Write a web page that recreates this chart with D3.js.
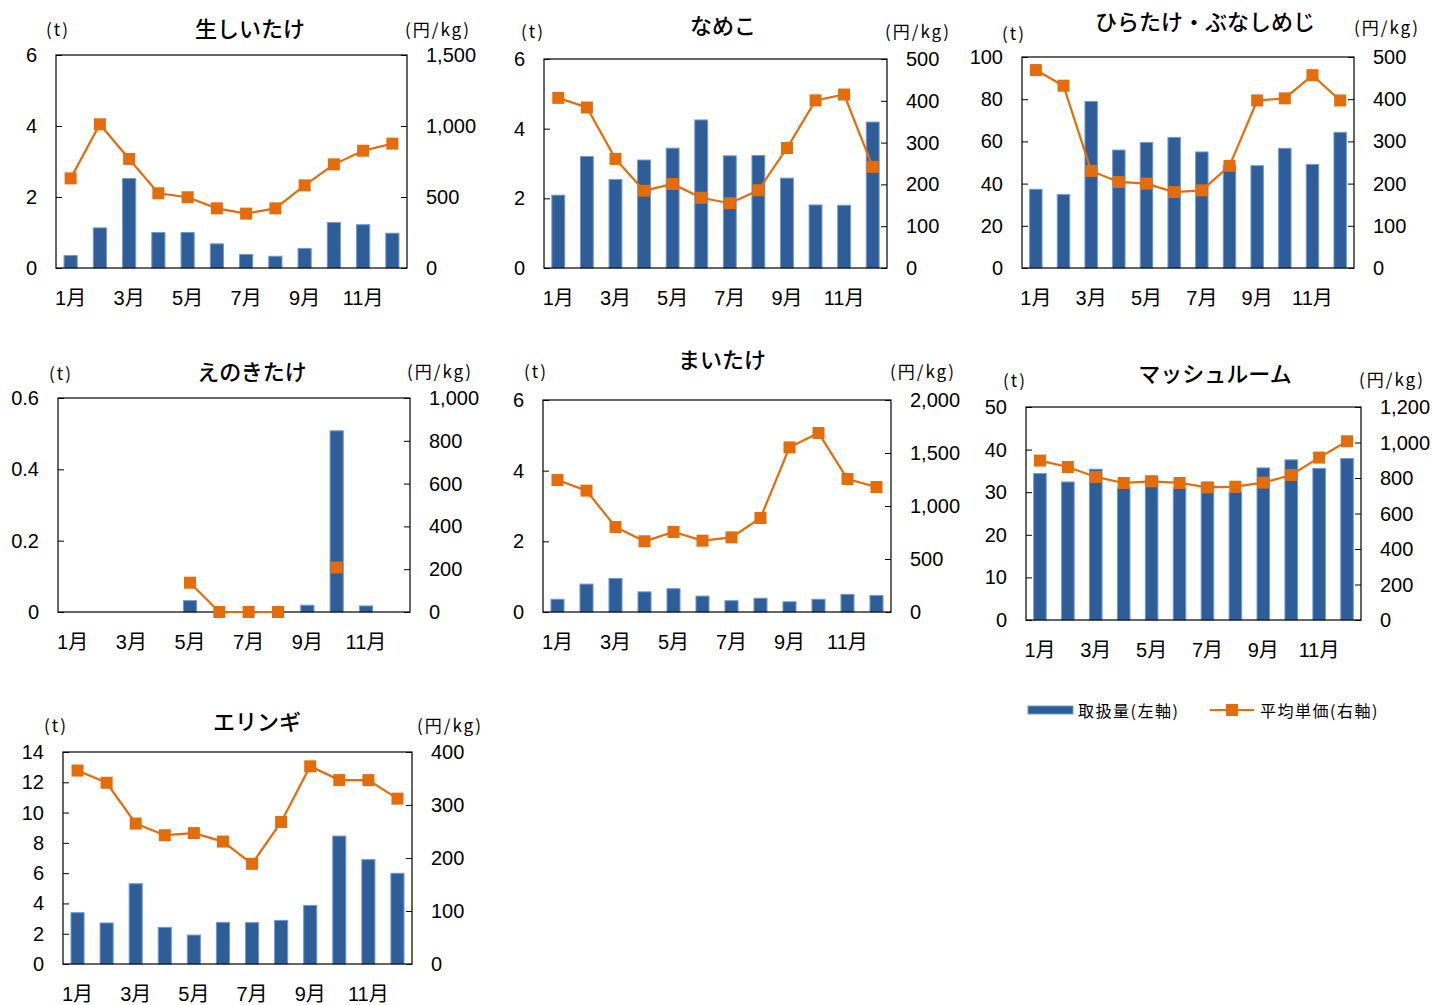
<!DOCTYPE html>
<html><head><meta charset="utf-8">
<script src="https://cdn.jsdelivr.net/npm/d3@7"></script>
<style>
html,body{margin:0;padding:0;background:#fff;}
svg{display:block;}
text{fill:#000;}
</style></head>
<body>
<svg id="c" width="1432" height="1005"></svg>
<script>
// ---------- DATA ----------
const months = ["1月","2月","3月","4月","5月","6月","7月","8月","9月","10月","11月","12月"];
const monthLabels = ["1月","3月","5月","7月","9月","11月"];

const shiitakeVolume = [0.35,1.13,2.52,1.0,1.0,0.68,0.38,0.33,0.55,1.28,1.22,0.98];
const shiitakePrice  = [631,1012,768,526,498,420,383,420,582,730,826,876];
const shiitakeLeftTicks = [0,2,4,6];
const shiitakeRightTicks = [0,500,1000,1500];

const namekoVolume = [2.09,3.2,2.54,3.1,3.44,4.25,3.22,3.23,2.58,1.81,1.8,4.19];
const namekoPrice  = [407,384,261,185,201,168,155,186,287,401,415,242];
const namekoLeftTicks = [0,2,4,6];
const namekoRightTicks = [0,100,200,300,400,500];

const hiratakeVolume = [37.3,34.8,78.9,55.9,59.5,61.9,55.0,48.5,48.5,56.7,49.1,64.3];
const hiratakePrice  = [469,432,230,204,200,180,184,242,397,402,457,397];
const hiratakeLeftTicks = [0,20,40,60,80,100];
const hiratakeRightTicks = [0,100,200,300,400,500];

const enokiVolume = [null,null,null,null,0.032,null,null,null,0.019,0.508,0.017,null];
const enokiPrice  = [null,null,null,null,137,0,0,0,null,208,null,null];
const enokiLeftTicks = [0,0.2,0.4,0.6];
const enokiRightTicks = [0,200,400,600,800,1000];

const maitakeVolume = [0.36,0.79,0.95,0.57,0.66,0.45,0.32,0.39,0.29,0.36,0.5,0.47];
const maitakePrice  = [1245,1145,802,667,755,673,704,887,1553,1689,1255,1179];
const maitakeLeftTicks = [0,2,4,6];
const maitakeRightTicks = [0,500,1000,1500,2000];

const mushroomVolume = [34.4,32.4,35.4,31.0,33.8,31.0,32.3,30.0,35.7,37.6,35.6,37.9];
const mushroomPrice  = [898,862,806,772,781,772,747,751,774,817,915,1007];
const mushroomLeftTicks = [0,10,20,30,40,50];
const mushroomRightTicks = [0,200,400,600,800,1000,1200];

const eringiVolume = [3.39,2.71,5.3,2.42,1.91,2.75,2.73,2.88,3.87,8.45,6.89,5.99];
const eringiPrice  = [365,342,265,243,247,231,189,268,373,347,347,312];
const eringiLeftTicks = [0,2,4,6,8,10,12,14];
const eringiRightTicks = [0,100,200,300,400];

const titles = ["生しいたけ","なめこ","ひらたけ・ぶなしめじ","えのきたけ","まいたけ","マッシュルーム","エリンギ"];
const legendLabels = ["取扱量(左軸)","平均単価(右軸)"];

// ---------- LAYOUT ----------
const charts = [
  {title:titles[0], vol:shiitakeVolume, price:shiitakePrice, lt:shiitakeLeftTicks, rt:shiitakeRightTicks,
   box:[56,55,407,268], tpos:[250,27], tu:[58,28], yu:[438,28]},
  {title:titles[1], vol:namekoVolume, price:namekoPrice, lt:namekoLeftTicks, rt:namekoRightTicks,
   box:[544,59,887,268], tpos:[723,24], tu:[533,30], yu:[918,30]},
  {title:titles[2], vol:hiratakeVolume, price:hiratakePrice, lt:hiratakeLeftTicks, rt:hiratakeRightTicks,
   box:[1022,57,1354,268], tpos:[1205,20], tu:[1014,32], yu:[1387,26]},
  {title:titles[3], vol:enokiVolume, price:enokiPrice, lt:enokiLeftTicks, rt:enokiRightTicks,
   box:[58,398,410,612], tpos:[252,370], tu:[61,372], yu:[440,370]},
  {title:titles[4], vol:maitakeVolume, price:maitakePrice, lt:maitakeLeftTicks, rt:maitakeRightTicks,
   box:[543,400,891,612], tpos:[722,358], tu:[536,370], yu:[923,370]},
  {title:titles[5], vol:mushroomVolume, price:mushroomPrice, lt:mushroomLeftTicks, rt:mushroomRightTicks,
   box:[1026,407,1361,620], tpos:[1215,372], tu:[1015,379], yu:[1392,378]},
  {title:titles[6], vol:eringiVolume, price:eringiPrice, lt:eringiLeftTicks, rt:eringiRightTicks,
   box:[63,752,412,964], tpos:[257,720], tu:[56,724], yu:[450,724]}
];

const BAR_FILL = "#2e5d98", BAR_STROKE = "#6f9bd3", LINE = "#e46c0a";
const NUM_FONT = "'Liberation Sans', Arial, 'Noto Sans CJK JP', sans-serif";
const JP_FONT = "'Noto Sans CJK JP', sans-serif";

const svg = d3.select("#c");
const fmt = d3.format(",");

charts.forEach(c => {
  const [x0,y0,x1,y1] = c.box;
  const g = svg.append("g");
  const x = d3.scaleBand().domain(months).range([x0,x1]).paddingInner(0.55).paddingOuter(0.275);
  const yl = d3.scaleLinear().domain([c.lt[0], c.lt[c.lt.length-1]]).range([y1,y0]);
  const yr = d3.scaleLinear().domain([c.rt[0], c.rt[c.rt.length-1]]).range([y1,y0]);

  // bars
  g.selectAll("rect.bar").data(months.map((m,i)=>({m, v:c.vol[i]})).filter(d=>d.v!=null))
    .join("rect").attr("class","bar")
    .attr("x", d=>x(d.m)).attr("width", x.bandwidth())
    .attr("y", d=>yl(d.v)).attr("height", d=>y1-yl(d.v))
    .attr("fill", BAR_FILL).attr("stroke", BAR_STROKE).attr("stroke-width",1);

  // frame
  g.append("rect").attr("x",x0).attr("y",y0).attr("width",x1-x0).attr("height",y1-y0)
    .attr("fill","none").attr("stroke","#000").attr("stroke-width",1.2);

  // left axis (ticks inward)
  const la = g.append("g").attr("transform",`translate(${x0},0)`)
    .call(d3.axisRight(yl).tickValues(c.lt).tickSize(6).tickFormat(""));
  la.select(".domain").remove();
  la.selectAll("line").attr("stroke","#000");
  g.selectAll("text.lt").data(c.lt).join("text").attr("class","lt")
    .attr("x", x0-19).attr("y", d=>yl(d)).attr("text-anchor","end")
    .attr("dominant-baseline","central").style("font-family",NUM_FONT).style("font-size","20px")
    .text(d=>d);

  // right axis
  const ra = g.append("g").attr("transform",`translate(${x1},0)`)
    .call(d3.axisLeft(yr).tickValues(c.rt).tickSize(6).tickFormat(""));
  ra.select(".domain").remove();
  ra.selectAll("line").attr("stroke","#000");
  g.selectAll("text.rt").data(c.rt).join("text").attr("class","rt")
    .attr("x", x1+19).attr("y", d=>yr(d)).attr("text-anchor","start")
    .attr("dominant-baseline","central").style("font-family",NUM_FONT).style("font-size","20px")
    .text(d=>fmt(d));

  // month labels
  g.selectAll("text.mo").data(monthLabels).join("text").attr("class","mo")
    .attr("x", d=>x(d)+x.bandwidth()/2).attr("y", y1+30).attr("text-anchor","middle")
    .attr("dominant-baseline","central").style("font-family",NUM_FONT).style("font-size","20px")
    .text(d=>d);

  // line
  const pts = months.map((m,i)=>({m, v:c.price[i]}));
  const line = d3.line().defined(d=>d.v!=null).x(d=>x(d.m)+x.bandwidth()/2).y(d=>yr(d.v));
  g.append("path").attr("d", line(pts)).attr("fill","none").attr("stroke",LINE).attr("stroke-width",2.2);
  g.selectAll("rect.mk").data(pts.filter(d=>d.v!=null)).join("rect").attr("class","mk")
    .attr("x", d=>x(d.m)+x.bandwidth()/2-6).attr("y", d=>yr(d.v)-6)
    .attr("width",12).attr("height",12).attr("fill",LINE);

  // titles & units
  g.append("text").attr("x",c.tpos[0]).attr("y",c.tpos[1]).attr("text-anchor","middle")
    .attr("dominant-baseline","central").style("font-family",JP_FONT).style("font-size","22px")
    .style("font-weight","500").text(c.title);
  g.append("text").attr("x",c.tu[0]).attr("y",c.tu[1]).attr("text-anchor","middle")
    .attr("dominant-baseline","central").style("font-family",JP_FONT).style("font-size","17px")
    .style("letter-spacing","2px").text("(t)");
  g.append("text").attr("x",c.yu[0]).attr("y",c.yu[1]).attr("text-anchor","middle")
    .attr("dominant-baseline","central").style("font-family",JP_FONT).style("font-size","17px")
    .style("letter-spacing","2px").text("(円/kg)");
});

// legend
const lg = svg.append("g");
lg.append("rect").attr("x",1028).attr("y",706).attr("width",45).attr("height",8)
  .attr("fill",BAR_FILL).attr("stroke",BAR_STROKE).attr("stroke-width",1);
lg.append("text").attr("x",1078).attr("y",710).attr("dominant-baseline","central")
  .style("font-family",JP_FONT).style("font-size","16px").style("letter-spacing","1.5px").text(legendLabels[0]);
lg.append("line").attr("x1",1210).attr("x2",1254).attr("y1",710).attr("y2",710)
  .attr("stroke",LINE).attr("stroke-width",2.2);
lg.append("rect").attr("x",1226).attr("y",704).attr("width",12).attr("height",12).attr("fill",LINE);
lg.append("text").attr("x",1260).attr("y",710).attr("dominant-baseline","central")
  .style("font-family",JP_FONT).style("font-size","16px").style("letter-spacing","1.5px").text(legendLabels[1]);
</script>
</body></html>
